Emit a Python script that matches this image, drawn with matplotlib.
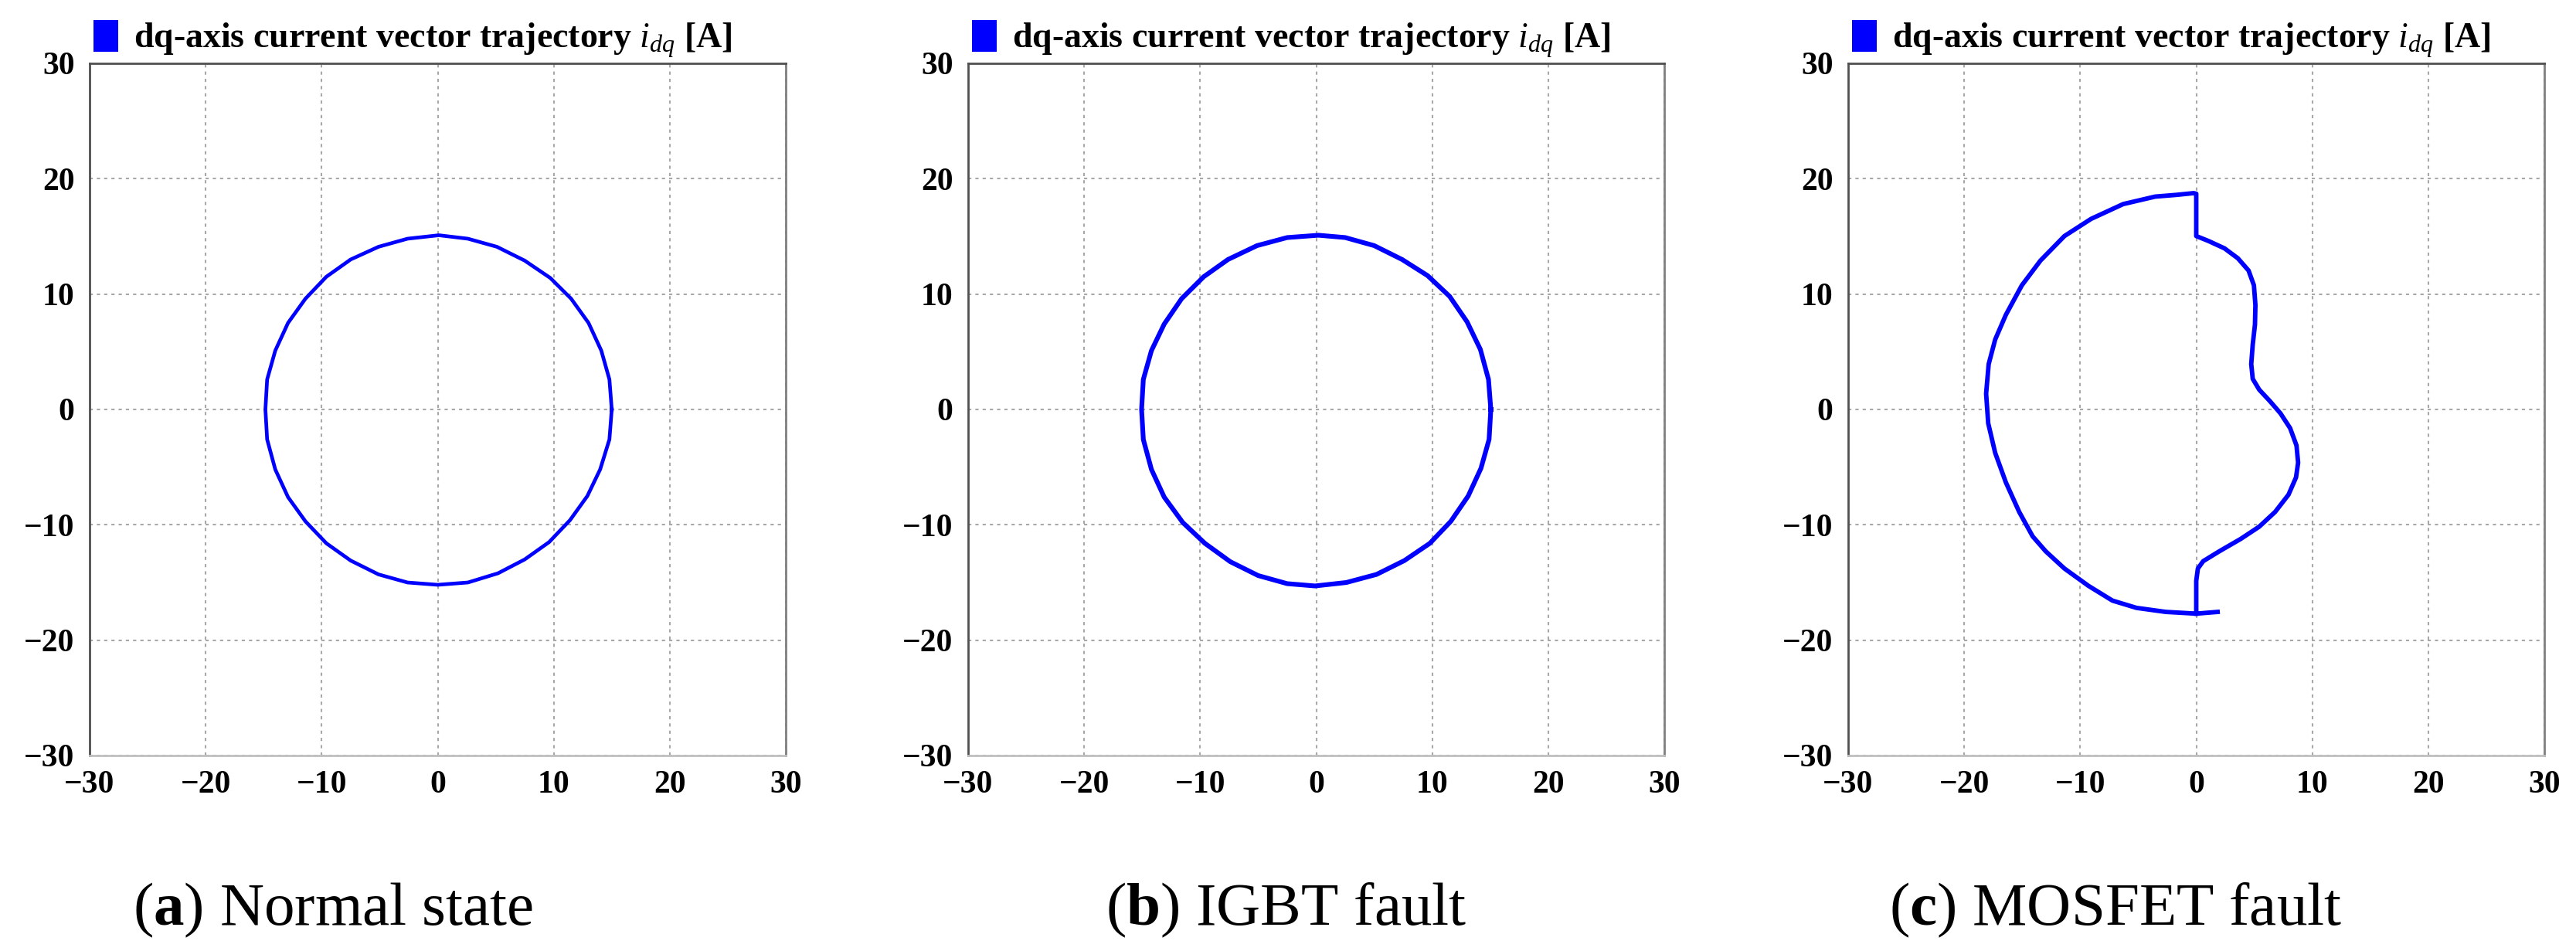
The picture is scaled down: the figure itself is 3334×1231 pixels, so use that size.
import matplotlib
matplotlib.use("Agg")
import matplotlib.pyplot as plt
from matplotlib.patches import Patch

plt.rcParams["font.family"] = ["Liberation Serif", "DejaVu Serif"]
plt.rcParams["mathtext.fontset"] = "custom"
plt.rcParams["mathtext.rm"] = "Liberation Serif"
plt.rcParams["mathtext.it"] = "Liberation Serif:italic"
plt.rcParams["mathtext.bf"] = "Liberation Serif:bold"

# (a) normal state: dq current trajectory [A]
normal_id = [15.0, 14.8, 14.1, 13.0, 11.5, 9.7, 7.5, 5.1, 2.6, 0.1, -2.6, -5.1, -7.5,
             -9.6, -11.4, -12.9, -14.0, -14.7, -14.85, -14.7, -14.0, -12.9, -11.4,
             -9.6, -7.5, -5.1, -2.6, 0.0, 2.6, 5.2, 7.5, 9.6, 11.4, 12.9, 14.0, 14.8, 15.0]
normal_iq = [0.0, 2.6, 5.1, 7.5, 9.6, 11.4, 12.9, 14.1, 14.8, 15.1, 14.8, 14.1, 13.0,
             11.5, 9.6, 7.5, 5.1, 2.6, 0.0, -2.6, -5.2, -7.6, -9.7, -11.6, -13.1, -14.3,
             -15.0, -15.2, -15.0, -14.2, -13.0, -11.5, -9.6, -7.5, -5.2, -2.6, 0.0]

# (b) IGBT fault
igbt_id = [15.05, 14.85, 14.15, 13.0, 11.5, 9.6, 7.4, 5.0, 2.5, 0.2, -2.5, -5.1, -7.6,
           -9.7, -11.6, -13.1, -14.2, -14.9, -15.05, -14.9, -14.2, -13.1, -11.5,
           -9.6, -7.4, -5.0, -2.5, -0.1, 2.6, 5.2, 7.6, 9.8, 11.6, 13.1, 14.2, 14.9, 15.05]
igbt_iq = [0.0, 2.6, 5.2, 7.6, 9.8, 11.6, 13.0, 14.2, 14.9, 15.1, 14.9, 14.2, 13.0,
           11.5, 9.6, 7.4, 5.1, 2.6, 0.0, -2.6, -5.2, -7.6, -9.8, -11.6, -13.2, -14.4,
           -15.1, -15.3, -15.0, -14.3, -13.1, -11.6, -9.7, -7.5, -5.1, -2.6, 0.0]

# (c) MOSFET fault
mosfet_id = [1.84, 0.0, -2.62, -5.15, -7.22, -9.29, -11.36, -12.97, -14.1, -15.26,
             -16.41, -17.33, -17.93, -18.11, -17.89, -17.33, -16.41, -15.03, -13.43,
             -11.36, -9.06, -6.3, -3.54, -1.7, -0.23, 0.0, 0.0, 1.06, 2.44, 3.59, 4.51,
             4.97, 5.1, 5.06, 4.87, 4.74, 4.87, 5.43, 6.34, 7.26, 8.09, 8.64, 8.78, 8.6,
             7.95, 6.8, 5.43, 3.82, 1.98, 0.6, 0.14, 0.0, 0.0]
mosfet_iq = [-17.55, -17.7, -17.55, -17.2, -16.57, -15.29, -13.79, -12.3, -11.0, -8.88,
             -6.32, -3.76, -1.2, 1.37, 3.93, 6.06, 8.2, 10.76, 12.9, 15.03, 16.52, 17.8,
             18.45, 18.6, 18.75, 18.7, 15.03, 14.6, 13.96, 13.1, 12.04, 10.76, 9.05, 7.34,
             5.64, 3.93, 2.65, 1.71, 0.73, -0.34, -1.62, -3.12, -4.61, -5.89, -7.39, -8.88,
             -10.16, -11.23, -12.3, -13.15, -13.79, -14.86, -17.7]

ticks = [-30, -20, -10, 0, 10, 20, 30]
legend_text = r"dq-axis current vector trajectory $i_{dq}$ [A]"

panels = [
    (normal_id, normal_iq, 3.4, 116, "a", "Normal state", 172),
    (igbt_id, igbt_iq, 4.4, 1253, "b", "IGBT fault", 1431),
    (mosfet_id, mosfet_iq, 4.2, 2392, "c", "MOSFET fault", 2445),
]

W, H = 3334, 1231
fig = plt.figure(figsize=(W / 100, H / 100), dpi=100)

for xs, ys, lw, left_px, tag, caption, cap_px in panels:
    ax = fig.add_axes([left_px / W, (H - 978) / H, 901 / W, 896 / H])
    ax.plot(xs, ys, color="#0000ff", lw=lw, solid_joinstyle="round")
    ax.set_xlim(-30, 30)
    ax.set_ylim(-30, 30)
    ax.set_xticks(ticks)
    ax.set_yticks(ticks)
    ax.tick_params(length=0, labelsize=30, pad=14)
    for lab in ax.get_xticklabels() + ax.get_yticklabels():
        lab.set_fontweight("bold")
    ax.grid(True, color="#a8a8a8", lw=1.5, ls=(0, (2, 2.5)))
    ax.spines["top"].set_color("#505050")
    ax.spines["left"].set_color("#505050")
    ax.spines["right"].set_color("#808080")
    ax.spines["bottom"].set_color("#c0c0c0")
    for s in ax.spines.values():
        s.set_linewidth(2)

    handle = Patch(facecolor="#0000ff", edgecolor="none")
    ax.legend([handle], [legend_text], loc="lower left", bbox_to_anchor=(0.0, 1.0),
              frameon=False, borderaxespad=0.1, borderpad=0.0,
              handlelength=0.7, handleheight=1.0, handletextpad=0.45,
              prop={"size": 33, "weight": "bold"})

    fig.text(cap_px / W, (H - 1197) / H, r"($\mathbf{" + tag + r"}$) " + caption,
             fontsize=57, ha="left", va="baseline")

fig.savefig("out.png", dpi=100)
